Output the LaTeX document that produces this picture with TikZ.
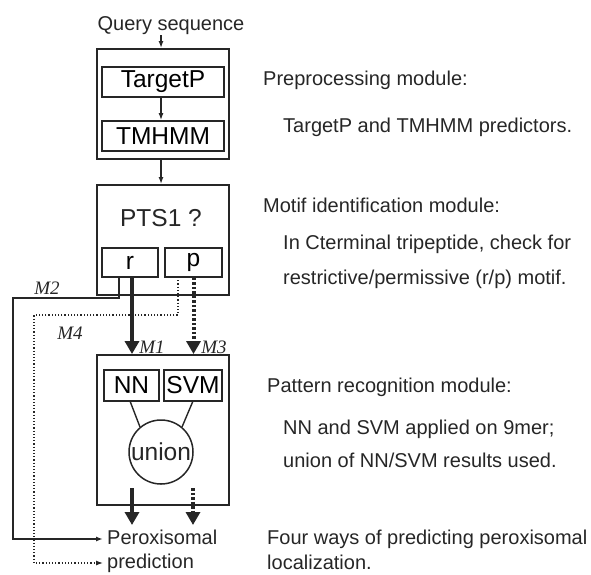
\documentclass[tikz,border=0pt]{standalone}
\usepackage{fontspec}
\setmainfont{Liberation Sans}
\newfontfamily\serifit{Liberation Serif}
\usetikzlibrary{arrows.meta}
\definecolor{ink}{gray}{0.15}
\tikzset{
  modbox/.style={draw=ink, line width=1.9pt, inner sep=0pt},
  subbox/.style={draw=ink, line width=1.7pt, inner sep=0pt, font=\fontsize{24.5}{28}\selectfont},
  thin/.style={draw=ink, line width=1.4pt},
  thinarr/.style={thin, -{Latex[length=7pt,width=5pt]}},
  thickarr/.style={draw=ink, line width=4pt, -{Triangle[length=13pt,width=14pt]}},
  dotarr/.style={thickarr, dash pattern=on 2.5pt off 2pt},
  txt/.style={inner sep=0pt, anchor=base west, font=\fontsize{20}{24}\selectfont, text=ink},
  mlab/.style={inner sep=0pt, font=\fontsize{19}{21}\serifit\itshape, text=ink},
}
\begin{document}
\begin{tikzpicture}[x=1pt,y=-1pt]
\useasboundingbox (0,0) rectangle (591,574);
% query
\node[txt, anchor=base] (q) at (171,30) {Query sequence};
% preprocessing module
\node[modbox, minimum width=132pt, minimum height=110pt] (pre) at (163,104) {};
\node[subbox, minimum width=122pt, minimum height=30pt] (tp) at (163,82) {TargetP};
\node[subbox, minimum width=122pt, minimum height=30pt] (tm) at (163,136) {TMHMM};
\coordinate (qa) at (161,35);
\draw[thinarr] (qa) -- (qa |- pre.north);
\draw[thinarr] (tp.south -| qa) -- (tm.north -| qa);
% motif module
\node[modbox, minimum width=132pt, minimum height=110pt] (mot) at (163,240) {};
\draw[thinarr] (pre.south -| qa) -- (mot.north -| qa);
\node[inner sep=0pt, font=\fontsize{24.5}{28}\selectfont, text=ink] (pts) at (161,218) {PTS1 ?};
\node[subbox, minimum width=56pt, minimum height=29pt] (r) at (130,262.5) {r};
\node[subbox, minimum width=57pt, minimum height=29pt] (p) at (193.5,262.5) {p};
% pattern module
\node[modbox, minimum width=132pt, minimum height=150pt] (pat) at (163,430) {};
\node[subbox, minimum width=55pt, minimum height=31pt] (nn) at (131.5,385.5) {NN};
\node[subbox, minimum width=58pt, minimum height=31pt] (svm) at (193,385.5) {SVM};
\node[draw=ink, line width=1.5pt, circle, minimum size=64pt, inner sep=0pt, font=\fontsize{24.5}{28}\selectfont, text=ink] (un) at (161,452) {union};
\draw[thin] (130,401) -- (un.130);
\draw[thin] (193,401) -- (un.50);
% arrows r/p -> pattern
\draw[thickarr] (r.south -| 132,0) -- (pat.north -| 132,0);
\draw[dotarr] (p.south) -- (p.south |- pat.north);
\node[mlab] (m1) at (152,347) {M1};
\node[mlab] (m3) at (214,347) {M3};
% output
\node[txt] (per1) at (107,544) {Peroxisomal};
\node[txt] (per2) at (107,568) {prediction};
\coordinate (o1) at (132,488);
\coordinate (o2) at (193,488);
\draw[thickarr] (o1) -- (132,525);
\draw[dotarr] (o2) -- (193,525);
% M2 and M4
\coordinate (r2) at (119,277);
\coordinate (p4) at (178,277);
\draw[thinarr] (r2) |- (13,298) |- ([xshift=-4pt]per1.west |- 0,539);
\draw[draw=ink, line width=1.2pt, dotted, -{Latex[length=7pt,width=5pt]}] (p4) |- (34,315) |- ([xshift=-4pt]per2.west |- 0,563);
\node[mlab] (m2) at (47,288) {M2};
\node[mlab] (m4) at (70,333) {M4};
% descriptions
\node[txt] (d1) at (263,85) {Preprocessing module:};
\node[txt] (d2) at (283,132) {TargetP and TMHMM predictors.};
\node[txt] (d3) at (263,212) {Motif identification module:};
\node[txt] (d4) at (283,249) {In Cterminal tripeptide, check for};
\node[txt] (d5) at (283,284) {restrictive/permissive (r/p) motif.};
\node[txt] (d6) at (267,392) {Pattern recognition module:};
\node[txt] (d7) at (283,434) {NN and SVM applied on 9mer;};
\node[txt] (d8) at (283,467) {union of NN/SVM results used.};
\node[txt] (d9) at (267,544) {Four ways of predicting peroxisomal};
\node[txt] (d10) at (267,569) {localization.};
\end{tikzpicture}
\end{document}
